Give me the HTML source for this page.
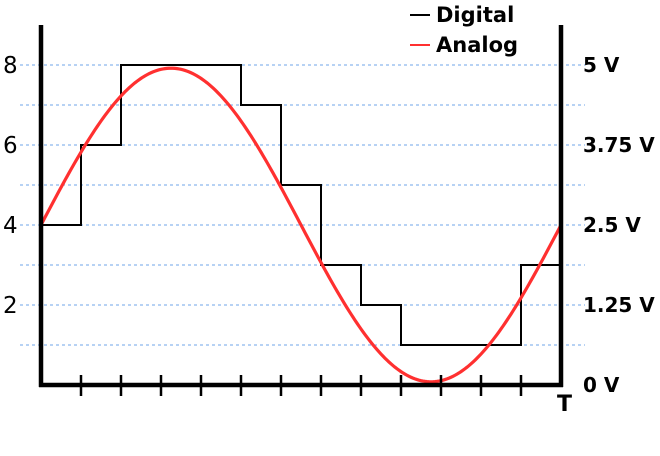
<!DOCTYPE html>
<html><head><meta charset="utf-8"><style>
html,body{margin:0;padding:0;background:#fff;}
svg{display:block;}
text{font-family:"DejaVu Sans","Liberation Sans",sans-serif;}
</style></head><body>
<svg id="chart" width="660" height="456" viewBox="0 0 660 456">
<g id="grid"></g>
<g id="series"></g>
<g id="axes"></g>
<g>
  <g>
    <line x1="410" y1="15" x2="430" y2="15" stroke="#000" stroke-width="2"/>
    <text x="436" y="22" font-size="21" font-weight="bold" fill="#000">Digital</text>
  </g>
  <g>
    <line x1="410" y1="45" x2="430" y2="45" stroke="#ff3030" stroke-width="2"/>
    <text x="436" y="52" font-size="21" font-weight="bold" fill="#000">Analog</text>
  </g>
</g>
<text x="557" y="411" font-size="22" font-weight="bold">T</text>
</svg>
<script>
const digitalLevels=[4,6,8,8,8,7,5,3,2,1,1,1,3];
const analogAmplitude=[3.92];
const analogOffset=[4];
const analogPeriod=[13];
const leftTicks=[2,4,6,8];
const rightTickLabels=["0 V","1.25 V","2.5 V","3.75 V","5 V"];
const rightTickValues=[0,2,4,6,8];
const gridValues=[1,2,3,4,5,6,7,8];
const xTickCount=[13];

const X0=41,X1=561,Y0=385,UNIT=40;
const nX=xTickCount[0];
const sx=v=>X0+(X1-X0)*v/nX;
const sy=v=>Y0-UNIT*v;
const NS="http://www.w3.org/2000/svg";
function mk(tag,attrs,parent){const e=document.createElementNS(NS,tag);for(const k in attrs)e.setAttribute(k,attrs[k]);parent.appendChild(e);return e;}
const grid=document.getElementById('grid'),series=document.getElementById('series'),axes=document.getElementById('axes');

gridValues.forEach(v=>{
  const l=mk('line',{x1:20,x2:585,y1:sy(v),y2:sy(v),stroke:'#6fa6e8','stroke-width':1,'stroke-dasharray':'3,3'},grid);
  
  
});
leftTicks.forEach(v=>{
  const t=mk('text',{x:3,y:sy(v)+8,'font-size':23,fill:'#000'},axes);
  t.textContent=v;
  
  
});
rightTickValues.forEach((v,i)=>{
  const t=mk('text',{x:583,y:sy(v)+7,'font-size':20,'font-weight':'bold',fill:'#000'},axes);
  t.textContent=rightTickLabels[i];
  
  
});

let d='';
digitalLevels.forEach((v,i)=>{d+=(i===0?'M':'L')+sx(i)+','+sy(v)+'L'+sx(i+1)+','+sy(v);});
const dp=mk('path',{d:d,fill:'none',stroke:'#000','stroke-width':2},series);



let a='';
for(let i=0;i<=260;i++){const t=nX*i/260;const v=analogOffset[0]+analogAmplitude[0]*Math.sin(2*Math.PI*t/analogPeriod[0]);a+=(i?'L':'M')+sx(t).toFixed(2)+','+sy(v).toFixed(2);}
const ap=mk('path',{d:a,fill:'none',stroke:'#ff3030','stroke-width':3.2},series);



const la=mk('line',{x1:X0,x2:X0,y1:25,y2:Y0+2,stroke:'#000','stroke-width':4.5},axes);


const ra=mk('line',{x1:X1,x2:X1,y1:25,y2:Y0+2,stroke:'#000','stroke-width':4.5},axes);


const ba=mk('line',{x1:X0-2,x2:X1+2,y1:Y0,y2:Y0,stroke:'#000','stroke-width':4.5},axes);


for(let i=1;i<nX;i++){
  const tk=mk('line',{x1:sx(i),x2:sx(i),y1:Y0-10,y2:Y0+11,stroke:'#000','stroke-width':2.5},axes);
  
  
}
</script>
</body></html>
